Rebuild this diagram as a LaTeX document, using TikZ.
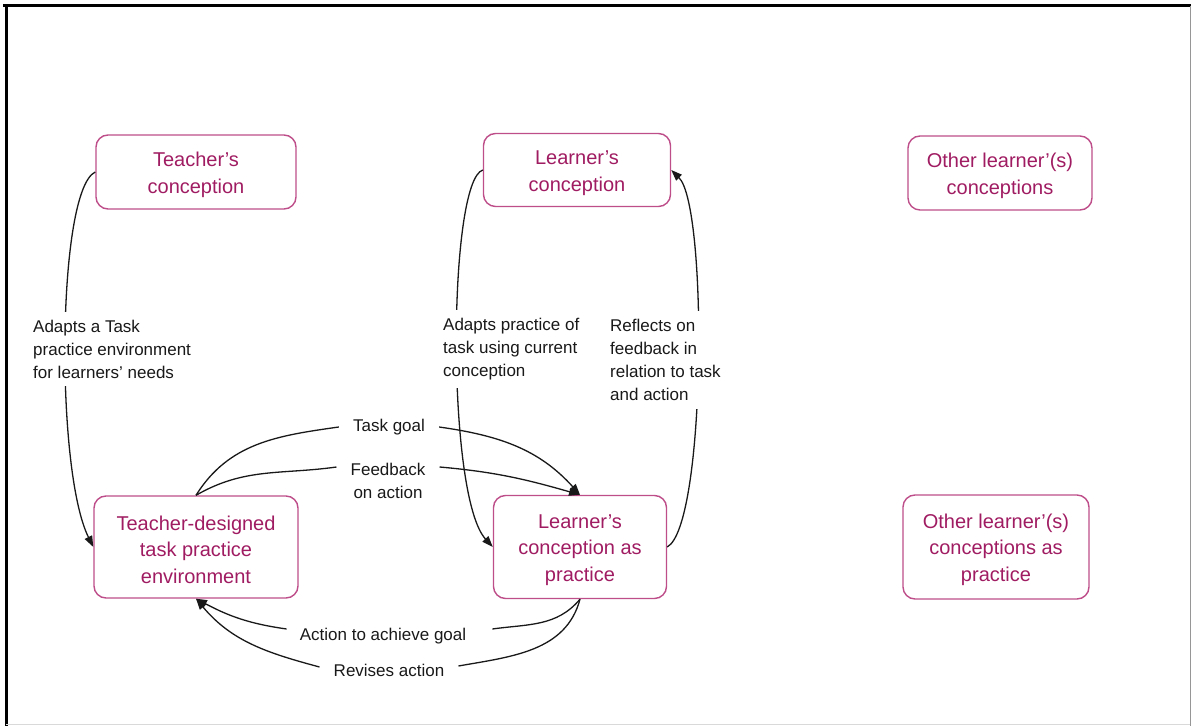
\documentclass[tikz,border=0pt]{standalone}
\usepackage{fontspec}
\setmainfont{Liberation Sans}
\usetikzlibrary{arrows.meta}
\definecolor{boxtext}{RGB}{160,28,98}
\definecolor{boxline}{RGB}{190,78,138}
\definecolor{framegrey}{RGB}{150,150,150}
% taller first line, so the box text sits a little lower
\newcommand{\boxstrut}{\rule{0pt}{20pt}}

\begin{document}
\begin{tikzpicture}[x=1pt,y=1pt,
  conc/.style={draw=boxline, line width=1.4pt, rounded corners=12pt,
    text=boxtext, align=center, inner sep=0pt,
    font=\fontsize{20}{26.5}\selectfont},
  lbl/.style={font=\fontsize{17}{23}\selectfont, text=black!90,
    fill=white, inner xsep=4pt, inner ysep=8pt},
  hlbl/.style={font=\fontsize{17}{23}\selectfont, text=black!90,
    align=center, inner xsep=14pt, inner ysep=3pt},
  link/.style={line width=1.3pt, black!90},
  tip/.style={-{Triangle[length=11pt,width=8pt]}}
]
\useasboundingbox (0,0) rectangle (1192,726);

% frame
\draw[line width=3pt] (3,720) -- (1191,720);
\draw[line width=3pt] (6,721.5) -- (6,0);
\draw[framegrey, line width=1pt] (1190.5,720) -- (1190.5,0);
\draw[black!15, line width=1pt] (6,1.5) -- (1190,1.5);

% conceptions
\node[conc, minimum width=200pt, minimum height=74pt] (tc) at (196,554) {\boxstrut Teacher’s\\conception};
\node[conc, minimum width=187pt, minimum height=73pt] (lc) at (577,556) {\boxstrut Learner’s\\conception};
\node[conc, minimum width=184pt, minimum height=74pt] (oc) at (1000,553) {\boxstrut Other learner’(s)\\conceptions};

% conceptions as practice
\node[conc, minimum width=204pt, minimum height=102pt] (td) at (196,179) {\boxstrut Teacher-designed\\task practice\\environment};
\node[conc, minimum width=173pt, minimum height=103pt] (lp) at (580,179) {\boxstrut Learner’s\\conception as\\practice};
\node[conc, minimum width=186pt, minimum height=104pt] (op) at (996,179) {\boxstrut Other learner’(s)\\conceptions as\\practice};

% vertical links
\draw[link,tip] (tc.west) .. controls (57,536) and (55,256) .. (td.west);
\draw[link,tip] (lc.west) .. controls (448,545) and (446,230) .. (lp.west);
\draw[link,tip] (lp.east) .. controls (706,200) and (708,520) .. (lc.east);

\node[lbl, align=left, anchor=west] (l1) at (29,377) {Adapts a Task\\practice environment\\for learners’ needs};
\node[lbl, align=left, anchor=west] (l2) at (439,377) {Adapts practice of\\task using current\\conception};
\node[lbl, align=left, anchor=west] (l3) at (606,366) {Reflects on\\feedback in\\relation to task\\and action};

% horizontal links
\node[hlbl] (tg) at (389,299) {Task goal};
\node[hlbl] (fb) at (388,245) {Feedback\\on action};
\node[hlbl, inner xsep=13pt] (aa) at (383,90) {Action to achieve goal};
\node[hlbl] (rv) at (389,56) {Revises action};

\draw[link] (td.north) to[out=58,in=188] (tg.west);
\draw[link,tip] (tg.east) to[out=-8,in=132] (lp.north);
\draw[link] (td.north) to[out=30,in=188] ([yshift=14pt]fb.west);
\draw[link,tip] ([yshift=14pt]fb.east) to[out=-5,in=164] (lp.north);

\draw[link] (lp.south) to[out=-130,in=8] ([xshift=13pt,yshift=7pt]aa.east);
\draw[link,tip] ([yshift=7pt]aa.west) to[out=172,in=-28] (td.south);
\draw[link] (lp.south) to[out=-105,in=10] ([yshift=4pt]rv.east);
\draw[link,tip] ([yshift=3pt]rv.west) to[out=165,in=-50] (td.south);
\end{tikzpicture}
\end{document}
